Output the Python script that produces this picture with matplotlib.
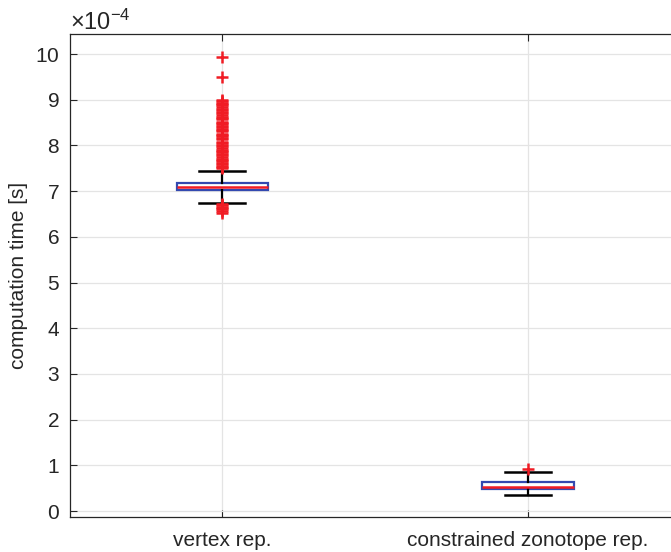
import matplotlib
matplotlib.use("Agg")
import matplotlib.pyplot as plt
from matplotlib.ticker import ScalarFormatter

plt.rcParams['font.family'] = ['Liberation Sans', 'DejaVu Sans']
plt.rcParams['mathtext.fontset'] = 'custom'
plt.rcParams['mathtext.rm'] = 'Liberation Sans'

# values, in units of 1e-4 s
SCALE = 1e-4
labels = ["vertex rep.", "constrained zonotope rep."]
q1 = [7.02, 0.48]
med = [7.09, 0.53]
q3 = [7.19, 0.64]
whislo = [6.75, 0.36]
whishi = [7.45, 0.85]
fliers_vertex = [9.94, 9.50,
                 9.00, 8.97, 8.94, 8.91, 8.88, 8.85,
                 8.80, 8.77, 8.74, 8.71,
                 8.66, 8.63, 8.60, 8.57,
                 8.52, 8.49, 8.46, 8.43, 8.40, 8.37, 8.34, 8.31,
                 8.26, 8.23, 8.20, 8.17, 8.14,
                 8.08, 8.05, 8.02, 7.99,
                 7.94, 7.91, 7.88, 7.85, 7.82, 7.79,
                 7.74, 7.71, 7.68, 7.65, 7.62, 7.59, 7.56, 7.53, 7.50,
                 6.72, 6.69, 6.66, 6.63, 6.60, 6.57, 6.52]
fliers_cz = [0.92]
fliers = [fliers_vertex, fliers_cz]

stats = []
for i in range(len(labels)):
    stats.append(dict(
        label=labels[i],
        q1=q1[i] * SCALE, med=med[i] * SCALE, q3=q3[i] * SCALE,
        whislo=whislo[i] * SCALE, whishi=whishi[i] * SCALE,
        fliers=[f * SCALE for f in fliers[i]],
    ))

fig = plt.figure(figsize=(6.71, 5.52), dpi=100)
ax = fig.add_axes([69.6 / 671, 35 / 552, 611 / 671, 483 / 552])

blue = '#3349b0'
red = '#f01c24'
dark = '#262626'

ax.bxp(stats, positions=[1, 2], widths=0.3, patch_artist=True,
       boxprops=dict(facecolor='white', edgecolor=blue, linewidth=1.6),
       medianprops=dict(color=red, linewidth=1.8),
       whiskerprops=dict(color='black', linewidth=1.6),
       capprops=dict(color='black', linewidth=1.8),
       flierprops=dict(marker='+', markeredgecolor=red, markersize=8,
                       markeredgewidth=1.8, linestyle='none'),
       zorder=3)

ax.set_xlim(0.5, 2.5)
ax.set_ylim(-0.13 * SCALE, 10.44 * SCALE)
ax.set_yticks([k * SCALE for k in range(11)])

# fixed exponent so the labels read 0..10 with x10^-4 on top
fmt = ScalarFormatter(useMathText=True)
fmt.set_powerlimits((-4, -4))
ax.yaxis.set_major_formatter(fmt)
ax.yaxis.get_offset_text().set_fontsize(17)
ax.yaxis.get_offset_text().set_color(dark)

ax.grid(True, color='#e4e4e4', linewidth=0.9, zorder=0)
ax.set_axisbelow(True)
ax.tick_params(direction='in', length=5, width=0.8, colors=dark,
               labelsize=15, top=True, right=True)
ax.tick_params(axis='x', pad=10)
ax.tick_params(axis='y', pad=7)
for s in ax.spines.values():
    s.set_color(dark)
    s.set_linewidth(0.9)

ax.set_ylabel("computation time [s]", fontsize=15, color=dark, labelpad=5)

fig.savefig("out.png", dpi=100)
